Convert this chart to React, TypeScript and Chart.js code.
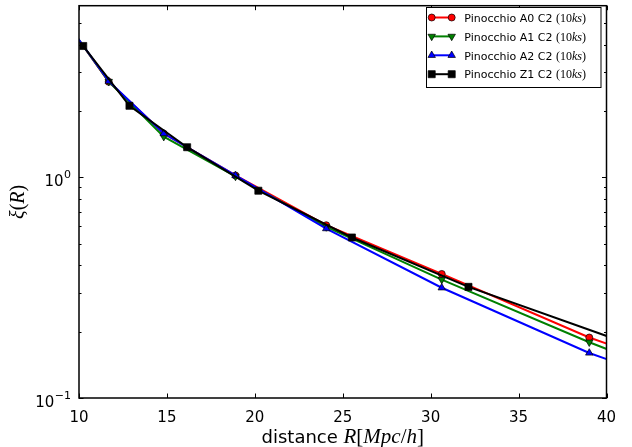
import React, { useEffect, useRef } from 'react';
import { Chart, registerables } from 'chart.js';

Chart.register(...registerables);

// ---- data ----
const xA = [9.2, 11.69, 14.82, 18.9, 24.06, 30.63, 39.02, 49.7];
const a0 = [5.15, 2.71, 1.58, 1.02, 0.607, 0.365, 0.188, 0.095];
const a1 = [5.15, 2.72, 1.53, 1.01, 0.596, 0.344, 0.179, 0.084];
const a2 = [5.15, 2.73, 1.58, 1.02, 0.586, 0.316, 0.16, 0.08];
const xZ = [10.24, 12.87, 16.15, 20.2, 25.52, 32.15, 40.5];
const z1 = [3.94, 2.11, 1.37, 0.87, 0.534, 0.319, 0.185];

const seriesLabels = ['Pinocchio A0 C2', 'Pinocchio A1 C2', 'Pinocchio A2 C2', 'Pinocchio Z1 C2'];
const seriesColors = ['#ff0000', '#008000', '#0000ff', '#000000'];
const seriesMarkers = ['circle', 'triDown', 'triUp', 'square'];
const noteNum = '10';
const noteVar = 'ks';

const xTicks = [10, 15, 20, 25, 30, 35, 40];
const yMajor = [0.1, 1];
const yMajorExp = ['\u22121', '0'];
const yMinor = [0.2, 0.3, 0.4, 0.5, 0.6, 0.7, 0.8, 0.9, 2, 3, 4, 5];

const SANS = '"DejaVu Sans", sans-serif';
const SERIF = '"Liberation Serif", serif';

type Seg = [string, string];

function drawSegs(ctx: CanvasRenderingContext2D, segs: Seg[], x: number, y: number, align: 'left' | 'center') {
  let total = 0;
  const widths = segs.map(([t, f]) => {
    ctx.font = f;
    const w = ctx.measureText(t).width;
    total += w;
    return w;
  });
  let cx = align === 'center' ? x - total / 2 : x;
  ctx.textAlign = 'left';
  ctx.textBaseline = 'alphabetic';
  segs.forEach(([t, f], i) => {
    ctx.font = f;
    ctx.fillText(t, cx, y);
    cx += widths[i];
  });
}

function drawMarker(ctx: CanvasRenderingContext2D, kind: string, x: number, y: number, color: string) {
  ctx.save();
  ctx.fillStyle = color;
  ctx.strokeStyle = '#000';
  ctx.lineWidth = 0.7;
  ctx.beginPath();
  if (kind === 'circle') {
    ctx.arc(x, y, 3.5, 0, Math.PI * 2);
  } else if (kind === 'triUp') {
    const r = 4.3;
    ctx.moveTo(x, y - r);
    ctx.lineTo(x + r * 0.866, y + r / 2);
    ctx.lineTo(x - r * 0.866, y + r / 2);
    ctx.closePath();
  } else if (kind === 'triDown') {
    const r = 4.3;
    ctx.moveTo(x, y + r);
    ctx.lineTo(x + r * 0.866, y - r / 2);
    ctx.lineTo(x - r * 0.866, y - r / 2);
    ctx.closePath();
  } else {
    const s = 5 * Math.SQRT1_2;
    ctx.rect(x - s, y - s, 2 * s, 2 * s);
  }
  ctx.fill();
  ctx.stroke();
  ctx.restore();
}

const decorPlugin = {
  id: 'decor',
  afterDatasetsDraw(chart: any) {
    const ctx: CanvasRenderingContext2D = chart.ctx;
    const { left, right, top, bottom } = chart.chartArea;
    const xs = chart.scales.x;
    const ys = chart.scales.y;
    ctx.save();
    ctx.strokeStyle = '#000';
    ctx.lineWidth = 1;
    // ticks (inward, all four sides)
    ctx.beginPath();
    xTicks.forEach((v) => {
      const px = Math.round(xs.getPixelForValue(v)) + 0.5;
      ctx.moveTo(px, bottom);
      ctx.lineTo(px, bottom - 4.5);
      ctx.moveTo(px, top);
      ctx.lineTo(px, top + 4.5);
    });
    yMajor.forEach((v) => {
      const py = Math.round(ys.getPixelForValue(v)) + 0.5;
      ctx.moveTo(left, py);
      ctx.lineTo(left + 4.5, py);
      ctx.moveTo(right, py);
      ctx.lineTo(right - 4.5, py);
    });
    yMinor.forEach((v) => {
      const py = Math.round(ys.getPixelForValue(v)) + 0.5;
      ctx.moveTo(left, py);
      ctx.lineTo(left + 2.5, py);
      ctx.moveTo(right, py);
      ctx.lineTo(right - 2.5, py);
    });
    ctx.stroke();
    // frame
    ctx.lineWidth = 1.5;
    ctx.strokeRect(left, top, right - left, bottom - top);

    ctx.fillStyle = '#000';
    // x tick labels
    ctx.font = '15px ' + SANS;
    ctx.textAlign = 'center';
    ctx.textBaseline = 'alphabetic';
    xTicks.forEach((v) => {
      ctx.fillText(String(v), xs.getPixelForValue(v), bottom + 23.5);
    });
    // y tick labels 10^n
    yMajor.forEach((v, i) => {
      const py = ys.getPixelForValue(v);
      const rx = left - 8;
      ctx.textAlign = 'right';
      ctx.font = '11px ' + SANS;
      const ew = ctx.measureText(yMajorExp[i]).width;
      ctx.fillText(yMajorExp[i], rx, py + 0.5);
      ctx.font = '15px ' + SANS;
      ctx.fillText('10', rx - ew - 0.5, py + 8.5);
    });
    // x axis title
    drawSegs(
      ctx,
      [
        ['distance ', '18px ' + SANS],
        ['R', 'italic 21px ' + SERIF],
        ['[', '21px ' + SERIF],
        ['Mpc', 'italic 21px ' + SERIF],
        ['/', '21px ' + SERIF],
        ['h', 'italic 21px ' + SERIF],
        [']', '21px ' + SERIF],
      ],
      (left + right) / 2,
      bottom + 45,
      'center'
    );
    // y axis title
    ctx.save();
    ctx.translate(0, (top + bottom) / 2);
    ctx.rotate(-Math.PI / 2);
    drawSegs(
      ctx,
      [
        ['\u03BE', 'italic 20px ' + SERIF],
        ['(', '20px ' + SERIF],
        ['R', 'italic 20px ' + SERIF],
        [')', '20px ' + SERIF],
      ],
      0,
      24,
      'center'
    );
    ctx.restore();

    // legend
    const bx = 426.5, by = 7.5, bw = 174.5, bh = 80;
    ctx.fillStyle = '#fff';
    ctx.fillRect(bx, by, bw, bh);
    ctx.lineWidth = 1;
    ctx.strokeStyle = '#000';
    ctx.strokeRect(bx, by, bw, bh);
    seriesLabels.forEach((lab, i) => {
      const cy = 17.5 + i * 18.9;
      ctx.strokeStyle = seriesColors[i];
      ctx.lineWidth = 2;
      ctx.beginPath();
      ctx.moveTo(431.7, cy);
      ctx.lineTo(451.7, cy);
      ctx.stroke();
      drawMarker(ctx, seriesMarkers[i], 431.7, cy, seriesColors[i]);
      drawMarker(ctx, seriesMarkers[i], 451.7, cy, seriesColors[i]);
      ctx.fillStyle = '#000';
      drawSegs(
        ctx,
        [
          [lab + ' ', '11px ' + SANS],
          ['(' + noteNum, '12px ' + SERIF],
          [noteVar, 'italic 12px ' + SERIF],
          [')', '12px ' + SERIF],
        ],
        464.3,
        cy + 4.2,
        'left'
      );
    });
    ctx.restore();
  },
};

function ds(label: string, xs: number[], ys: number[], color: string, style: string, radius: number, rotation: number, order: number) {
  return {
    label,
    data: xs.map((x, i) => ({ x, y: ys[i] })),
    borderColor: color,
    backgroundColor: color,
    borderWidth: 2,
    tension: 0,
    pointStyle: style,
    pointRadius: radius,
    pointRotation: rotation,
    pointBackgroundColor: color,
    pointBorderColor: '#000',
    pointBorderWidth: 0.7,
    clip: 0,
    order,
  };
}

export default function App() {
  const ref = useRef<HTMLCanvasElement | null>(null);
  useEffect(() => {
    document.body.style.margin = '0';
    const canvas = ref.current!;
    const chart = new Chart(canvas, {
      type: 'line',
      data: {
        datasets: [
          ds(seriesLabels[0], xA, a0, seriesColors[0], 'circle', 3.5, 0, 4),
          ds(seriesLabels[1], xA, a1, seriesColors[1], 'triangle', 4.3, 180, 3),
          ds(seriesLabels[2], xA, a2, seriesColors[2], 'triangle', 4.3, 0, 2),
          ds(seriesLabels[3], xZ, z1, seriesColors[3], 'rect', 5, 0, 1),
        ] as any,
      },
      options: {
        responsive: false,
        animation: false,
        devicePixelRatio: 1,
        layout: { padding: { top: 2, right: 25.5, left: 0, bottom: 0 } },
        plugins: { legend: { display: false }, tooltip: { enabled: false } },
        scales: {
          x: {
            type: 'linear',
            min: 10,
            max: 40,
            grid: { display: false },
            border: { display: false },
            ticks: { display: false },
            afterFit: (s: any) => {
              s.height = 49;
            },
          },
          y: {
            type: 'logarithmic',
            min: 0.1,
            max: 6,
            grid: { display: false },
            border: { display: false },
            ticks: { display: false },
            afterFit: (s: any) => {
              s.width = 79;
            },
          },
        },
      } as any,
      plugins: [decorPlugin],
    });
    return () => chart.destroy();
  }, []);
  return <canvas ref={ref} width={632} height={447} style={{ display: 'block' }} />;
}
